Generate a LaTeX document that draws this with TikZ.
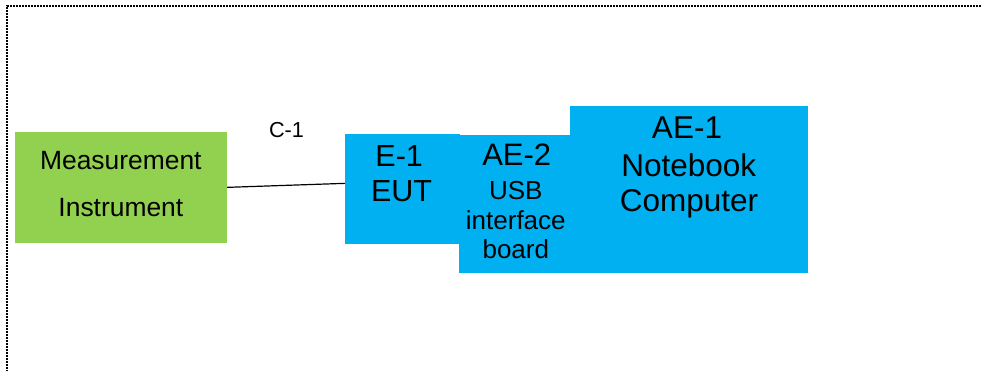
\documentclass[tikz,border=0pt]{standalone}
\usepackage{fontspec}
\setmainfont{Liberation Sans}
\definecolor{boxgreen}{HTML}{92D050}
\definecolor{boxblue}{HTML}{00B0F0}
\begin{document}
\begin{tikzpicture}[x=1pt,y=-1pt,
  box/.style={draw=none,inner sep=0pt,minimum width=#1},
  greenbox/.style={fill=boxgreen,inner sep=0pt},
  bluebox/.style={fill=boxblue,inner sep=0pt},
  txt/.style={anchor=base,inner sep=0pt,text=black},
  conn/.style={line width=1.2pt,black},
  frame/.style={line width=1.3pt,dash pattern=on 1.6pt off 1.4pt,black}]
\useasboundingbox (0,0) rectangle (981,370);
\begin{scope}
\clip (0,0) rectangle (981,370);
\draw[frame] (7,390) -- (7,6) -- (1000,6);
\end{scope}
% boxes
\node[greenbox,minimum width=212pt,minimum height=110.7pt] (meas) at (121,187.35) {};
\node[bluebox,minimum width=237.7pt,minimum height=166.7pt] (nb) at (688.85,189.35) {};
\node[bluebox,minimum width=114pt,minimum height=138.3pt] (usb) at (516.3,204.15) {};
\node[bluebox,minimum width=114.5pt,minimum height=110.3pt] (eut) at (402.25,189.15) {};
% connector
\draw[conn] (meas.east) -- ([yshift=5.8pt]eut.west);
% texts
\begin{scope}[font=\fontsize{26.4}{30}\selectfont]
\node[txt] (t1) at (120.85,169) {Measurement};
\node[txt] (t2) at (120.85,216.7) {Instrument};
\end{scope}
\node[txt,font=\fontsize{21.7}{25}\selectfont] (c1) at (286.5,137) {C-1};
\begin{scope}[font=\fontsize{30.5}{35}\selectfont]
\node[txt] (e1) at (399.2,166.7) {E-1};
\node[txt] (e2) at (401.5,201.7) {EUT};
\end{scope}
\node[txt,font=\fontsize{31}{35}\selectfont] (u1) at (516.7,165) {AE-2};
\begin{scope}[font=\fontsize{26}{30}\selectfont]
\node[txt] (u2) at (515.8,199) {USB};
\node[txt] (u3) at (515.8,229.3) {interface};
\node[txt] (u4) at (515.8,258.3) {board};
\end{scope}
\begin{scope}[font=\fontsize{31.5}{36}\selectfont]
\node[txt] (n1) at (687,138.3) {AE-1};
\node[txt] (n2) at (688.8,176) {Notebook};
\node[txt] (n3) at (689,211.7) {Computer};
\end{scope}
\end{tikzpicture}
\end{document}
